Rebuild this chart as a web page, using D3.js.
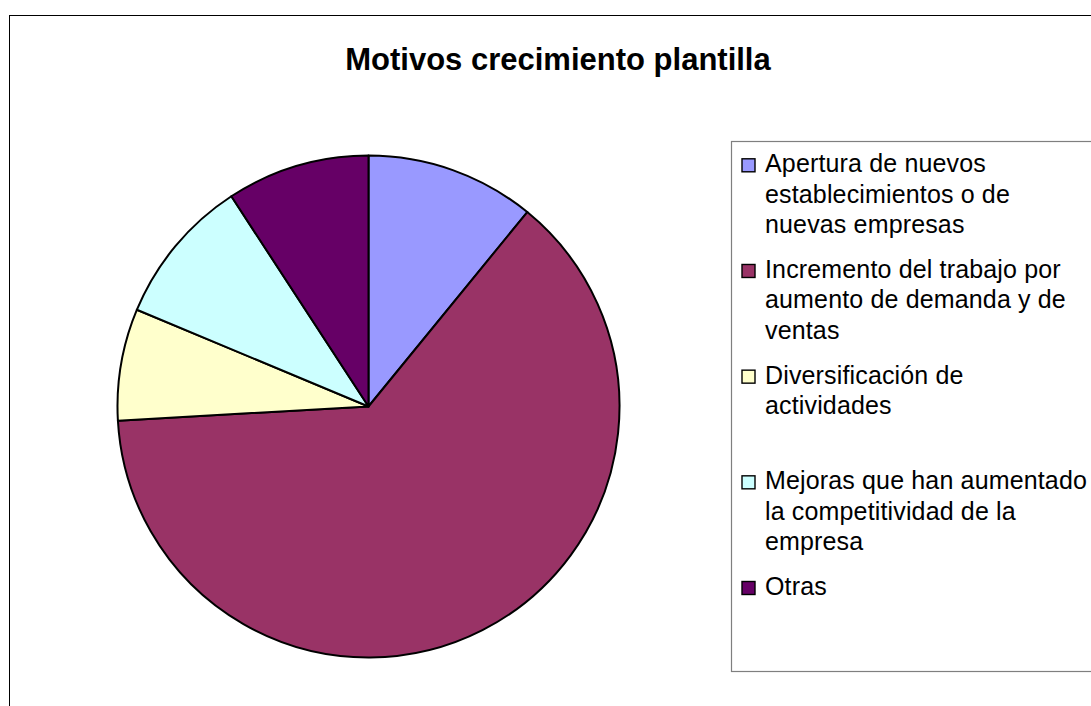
<!DOCTYPE html>
<html>
<head>
<meta charset="utf-8">
<script src="https://cdn.jsdelivr.net/npm/d3@7"></script>
<style>
  html, body { margin: 0; padding: 0; background: #fff; }
  svg { display: block; }
  text { font-family: "Liberation Sans", Arial, sans-serif; }
</style>
</head>
<body>
<svg id="chart" width="1091" height="706"></svg>
<script>
const title = "Motivos crecimiento plantilla";
const categories = [
  "Apertura de nuevos establecimientos o de nuevas empresas",
  "Incremento del trabajo por aumento de demanda y de ventas",
  "Diversificación de actividades",
  "Mejoras que han aumentado la competitividad de la empresa",
  "Otras"
];
const legendLines = [
  ["Apertura de nuevos", "establecimientos o de", "nuevas empresas"],
  ["Incremento del trabajo por", "aumento de demanda y de", "ventas"],
  ["Diversificación de", "actividades"],
  ["Mejoras que han aumentado", "la competitividad de la", "empresa"],
  ["Otras"]
];
const values = [10.9, 63.2, 7.2, 9.5, 9.2];
const colors = ["#9999FF", "#993366", "#FFFFCC", "#CCFFFF", "#660066"];

const svg = d3.select("#chart");

// outer chart frame
svg.append("rect")
  .attr("x", 9.5).attr("y", 15.5)
  .attr("width", 1200).attr("height", 800)
  .attr("fill", "#fff").attr("stroke", "#000").attr("stroke-width", 1);

// title
svg.append("text")
  .attr("x", 558).attr("y", 70)
  .attr("text-anchor", "middle")
  .attr("font-size", 31).attr("font-weight", "bold")
  .attr("fill", "#000")
  .text(title);

// pie
const cx = 368.5, cy = 406.5, r = 251;
const pie = d3.pie().sort(null).value(d => d.value);
const arc = d3.arc().innerRadius(0).outerRadius(r);
const data = categories.map((c, i) => ({ name: c, value: values[i], color: colors[i] }));

const g = svg.append("g").attr("transform", `translate(${cx},${cy})`);
g.selectAll("path")
  .data(pie(data))
  .join("path")
  .attr("d", arc)
  .attr("fill", d => d.data.color)
  .attr("stroke", "#000")
  .attr("stroke-width", 2)
  .attr("stroke-linejoin", "round");

// legend
svg.append("rect")
  .attr("x", 731.5).attr("y", 141.5)
  .attr("width", 500).attr("height", 530)
  .attr("fill", "#fff").attr("stroke", "#7f7f7f").attr("stroke-width", 1.2);

const itemY = d3.scalePoint().domain(d3.range(categories.length)).range([172.3, 595]);
const lineH = 30.5;
const lg = svg.append("g");
categories.forEach((c, i) => {
  const y0 = itemY(i);
  lg.append("rect")
    .attr("x", 742).attr("y", y0 - 13.5)
    .attr("width", 13).attr("height", 13)
    .attr("fill", colors[i]).attr("stroke", "#000").attr("stroke-width", 1.4);
  const t = lg.append("text")
    .attr("x", 765).attr("y", y0)
    .attr("font-size", 25).attr("letter-spacing", 0.15).attr("fill", "#000");
  legendLines[i].forEach((ln, j) => {
    t.append("tspan").attr("x", 765).attr("y", y0 + j * lineH).text(ln);
  });
});
</script>
</body>
</html>
